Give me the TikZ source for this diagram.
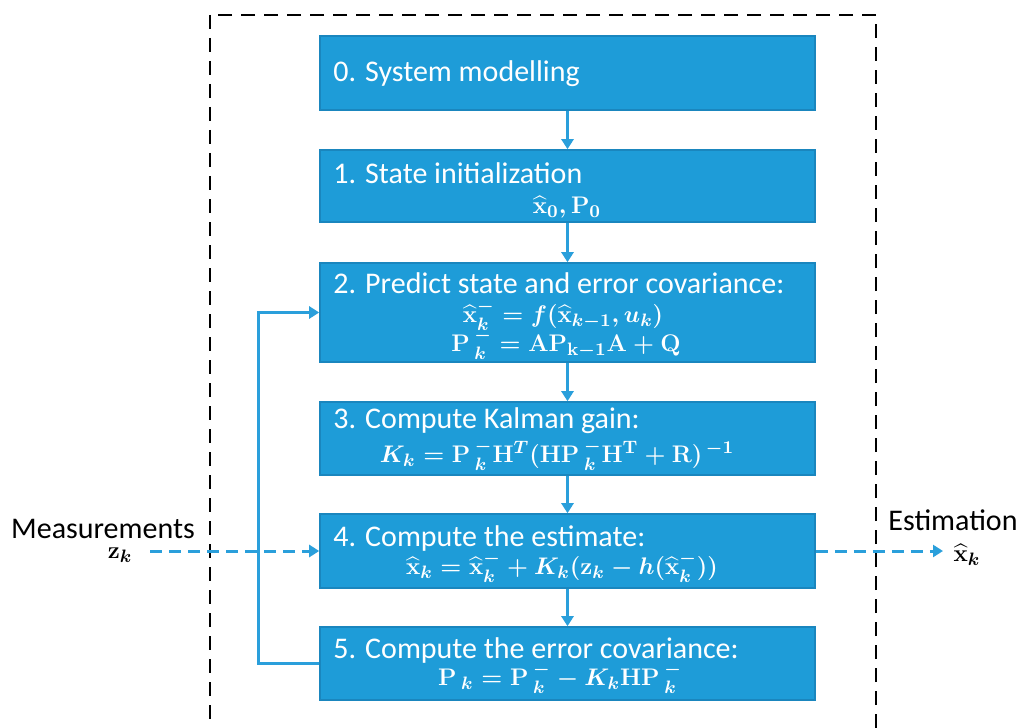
\documentclass[tikz,border=0pt]{standalone}
\usepackage{amsmath}
\usepackage[no-math]{fontspec}
\setmainfont{Carlito}
\usetikzlibrary{arrows.meta}
\definecolor{boxfill}{HTML}{1E9CD8}
\definecolor{boxline}{HTML}{1A86BE}
\definecolor{arr}{HTML}{2A9FDB}
\begin{document}
\begin{tikzpicture}[x=0.5pt,y=-0.5pt,
  stepbox/.style={draw=boxline,fill=boxfill,line width=0.8pt,minimum width=247.5pt,inner sep=0pt},
  title/.style={text=white,anchor=west,font=\fontsize{15}{18}\selectfont,inner sep=0pt},
  formula/.style={text=white,font=\fontsize{12.5}{15}\selectfont\boldmath,inner sep=0pt},
  lbl/.style={text=black,font=\fontsize{15}{18}\selectfont,inner sep=0pt},
  mlbl/.style={text=black,font=\fontsize{12.5}{15}\selectfont\boldmath,inner sep=0pt},
  flow/.style={arr,line width=1.5pt,-{Triangle[length=5pt,width=6pt]}},
  dflow/.style={arr,line width=1.5pt,dash pattern=on 6pt off 3.5pt,-{Triangle[length=5pt,width=6pt]}}]
\useasboundingbox (0,0) rectangle (1020,727);
\begin{scope}
\clip (0,0) rectangle (1020,727);
\draw[black,line width=1.3pt,dash pattern=on 7pt off 4.5pt] (210,15) rectangle (876,740);
\end{scope}
\node[stepbox,minimum height=37pt] (b0) at (567.5,73) {};
\node[stepbox,minimum height=36pt] (b1) at (567.5,186) {};
\node[stepbox,minimum height=49.5pt] (b2) at (567.5,312.5) {};
\node[stepbox,minimum height=36.5pt] (b3) at (567.5,438.5) {};
\node[stepbox,minimum height=37pt] (b4) at (567.5,551) {};
\node[stepbox,minimum height=36.5pt] (b5) at (567.5,663.5) {};
\node[title] (t0) at (333,74) {0. System modelling};
\node[title] (t1) at (333,173) {1. State initialization};
\node[formula] (f1) at (567,207) {$\widehat{\mathbf{x}}_0,\mathbf{P}_0$};
\node[title] (t2) at (333,283) {2. Predict state and error covariance:};
\node[formula] (f2a) at (563,315) {$\widehat{\mathbf{x}}_k^{-}=f(\widehat{\mathbf{x}}_{k-1},u_k)$};
\node[formula] (f2b) at (566,344) {$\mathbf{P}\,{}_k^{-}=\mathbf{A}\mathbf{P}_{\mathbf{k-1}}\mathbf{A}+\mathbf{Q}$};
\node[title] (t3) at (333,421) {3. Compute Kalman gain:};
\node[formula] (f3) at (557,455) {$K_k=\mathbf{P}\,{}_k^{-}\mathbf{H}^{T}(\mathbf{H}\mathbf{P}\,{}_k^{-}\mathbf{H}^{\mathrm{T}}+\mathbf{R})^{\,-1}$};
\node[title] (t4) at (333,538) {4. Compute the estimate:};
\node[formula] (f4) at (562,567) {$\widehat{\mathbf{x}}_k=\widehat{\mathbf{x}}_k^{-}+K_k(\mathbf{z}_k-h(\widehat{\mathbf{x}}_k^{-}))$};
\node[title] (t5) at (333,650) {5. Compute the error covariance:};
\node[formula] (f5) at (560,678) {$\mathrm{P}\,{}_k=\mathbf{P}\,{}_k^{-}-K_k\mathbf{H}\mathbf{P}\,{}_k^{-}$};
\foreach \a/\b in {b0/b1,b1/b2,b2/b3,b3/b4,b4/b5}
  \draw[flow] (\a.south) -- (\b.north);
\coordinate (lc) at (258,663.5);
\draw[flow] (b5.west) -- (lc) |- (b2.west);
\node[lbl] (meas) at (103,529) {Measurements};
\node[mlbl] (measz) at (120,555) {$\mathbf{z}_k$};
\coordinate (min) at (150,551);
\draw[dflow] (min) -- (b4.west);
\node[lbl] (est) at (953,520) {Estimation};
\node[mlbl] (estx) at (967,555) {$\widehat{\mathbf{x}}_k$};
\coordinate (eout) at (943,551);
\draw[dflow] (b4.east) -- (eout);
\end{tikzpicture}
\end{document}
